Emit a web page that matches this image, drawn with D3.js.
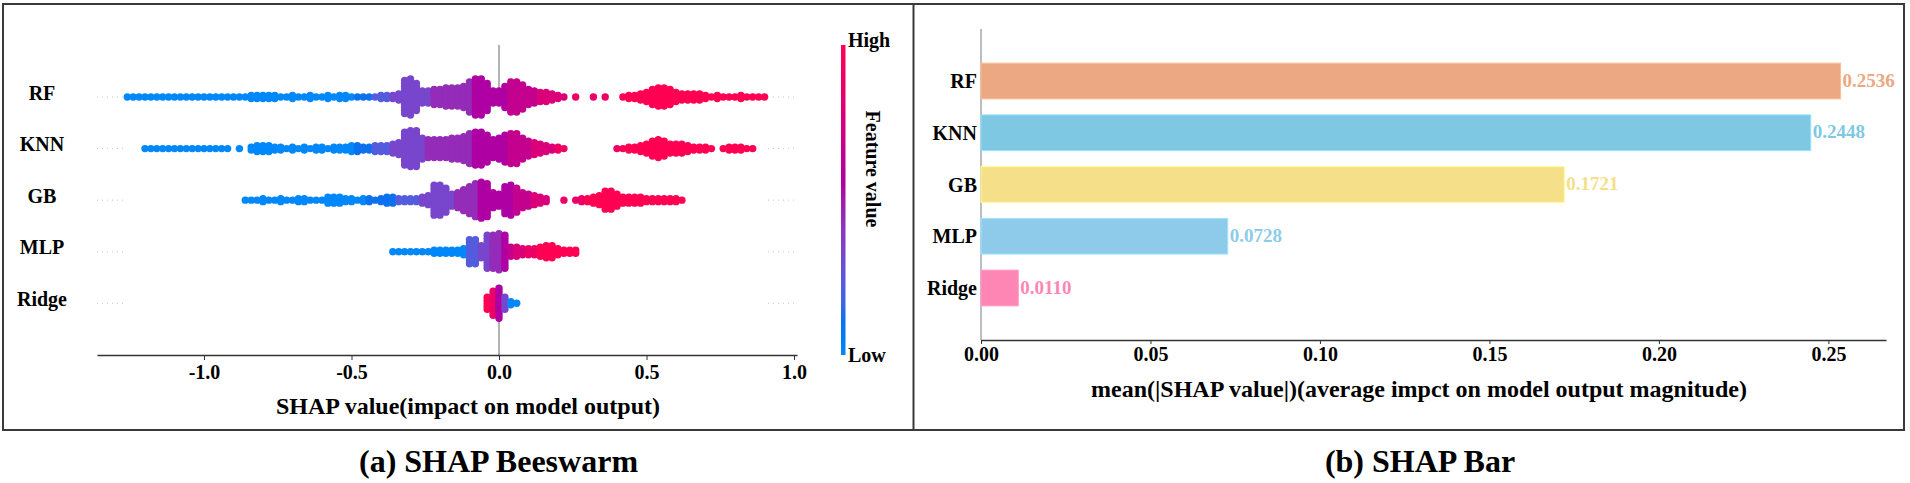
<!DOCTYPE html>
<html>
<head>
<meta charset="utf-8">
<script src="https://cdn.jsdelivr.net/npm/d3@7/dist/d3.min.js"></script>
<style>
    body { margin: 0; background: #fff; }
    svg text { font-family: 'Liberation Serif', 'Times New Roman', serif; font-weight: bold; }
</style>
</head>
<body>
<svg id="chart" width="1910" height="483"></svg>
<script>
// models, top to bottom
var models = ['RF', 'KNN', 'GB', 'MLP', 'Ridge'];

// beeswarm: number of points per 0.02 SHAP bin
var binStep = 0.02;
var binStart = [-1.26, -1.20, -0.86, -0.36, -0.04];

var rfCounts = [
    1,1,1,1,1,1,1,1,1,1, 1,1,1,1,1,1,1,1,1,1,
    1,2,2,2,2,2,1,1,2,1, 1,2,1,1,2,1,2,2,
    1,1,1,1,1,2,2,2,
    3,12,13,10,5,5,6,6,7,7,
    7,8,11,13,13,10,5,5,8,11,
    11,9,6,5,4,4,3,2,1,0,
    1,0,0,1,0,1,0,0,1,2,
    2,3,4,6,7,7,6,4,3,3,
    3,3,2,
    1,2,1,1,1,2,1,1,1,1
];
var knnCounts = [
    1,1,1,1,1,1,1,1,1,1,1,1,1,1,1,
    0,1,0,
    2,3,3,3,2,2,
    1,2,1,2,1,2,2,1,2,2,2,
    3,3,2,2,3,3,3,4,5,
    12,13,13,8,
    7,7,7,7,8,8,
    9,11,12,12,10,
    7,8,
    10,11,11,8,
    6,5,4,3,2,2,1,
    0,0,0,0,0,0,0,0,
    1,1,2,2,3,4,
    6,7,6,4,4,4,3,2,2,2,1,
    0,
    1,2,2,2,1,1
];
var gbCounts = [
    1,1,1,2,1,1,2,1,1,2,2,1,1,1,
    3,3,3,2,
    2,1,2,2,1,2,
    3,3,2,2,2,2,3,4,
    11,11,9,
    5,6,8,10,12,13,12,6,5,
    10,11,9,6,5,4,3,2,
    0,0,1,0,
    1,2,2,3,4,7,7,5,3,3,3,3,2,2,2,2,2,2,1
];
var mlpCounts = [
    1,1,1,1,1,1,1,
    2,2,2,2,2,
    3,9,9,5,12,12,13,12,
    4,4,3,3,3,4,5,5,3,2,2,2
];
var ridgeCounts = [5, 9, 11, 5, 2, 1];

// feature value of each bin, 0 (low) .. 9 (high)
var rfFeature = [
    0,0,0,0,0,0,0,0,0,0, 0,0,0,0,0,0,0,0,0,0,
    0,0,0,0,0,0,0,0,0,0, 0,0,0,0,0,0,0,0,0,
    1,1,1,2,2,2,3,
    3,3,3,3,3,3,4,4,4,4,
    4,4,4,5,5,5,5,5,5,6,
    6,6,6,6,7,7,7,7,7,8,
    8,8,8,8,8,8,8,9,9,9,
    9,9,9,9,9,9,9,9,9,9,
    9,9,9,
    9,9,9,9,9,9,9,9,9,9
];
var knnFeature = [
    0,0,0,0,0,0,0,0,0,0,0,0,0,0,0,
    0,0,0,
    0,0,0,0,0,0,
    0,0,0,0,0,0,0,0,0,0,0,
    0,1,1,1,2,2,2,3,3,
    3,3,3,3,
    4,4,4,4,4,4,
    4,4,5,5,5,
    5,5,
    5,6,6,6,
    6,7,7,7,7,8,8,
    8,8,8,8,8,8,8,8,
    8,9,9,9,9,9,
    9,9,9,9,9,9,9,9,9,9,9,
    9,
    9,9,9,9,9,9
];
var gbFeature = [
    0,0,0,0,0,0,0,0,0,0,0,0,0,0,
    0,0,0,0,
    0,0,0,1,1,1,
    1,1,2,2,2,2,3,3,
    3,3,3,
    3,4,4,4,4,5,5,5,5,
    5,5,6,6,6,7,7,7,
    8,8,8,8,
    8,8,9,9,9,9,9,9,9,9,9,9,9,9,9,9,9,9,9
];
var mlpFeature = [
    0,0,0,0,0,0,0,
    0,0,0,0,0,
    0,2,2,3,3,4,4,5,
    6,7,7,8,8,9,9,9,9,9,9,9
];
var ridgeFeature = [9, 8, 5, 3, 0, 0];

var shapTicks      = [-1, -0.5, 0, 0.5, 1];
var shapTickLabels = ['-1.0', '-0.5', '0.0', '0.5', '1.0'];

// bar chart
var meanAbsShap = [0.2536, 0.2448, 0.1721, 0.0728, 0.0110];
var barTicks    = [0, 0.05, 0.10, 0.15, 0.20, 0.25];
var barColors   = ['#eba882', '#7ec8e3', '#f5df88', '#8ecbea', '#fd86b4'];

var layout = {
    swarm: { left: 97, right: 797, top: 97, bottom: 303.3, axisY: 355, lineTop: 45, dot: 3.7, stack: 3 },
    cbar:  { x: 841, y: 45, width: 4.5, height: 310 },
    bar:   { left: 981, right: 1886, top: 29, bottom: 340, labelX: 977 },
    frame: { x: 3, y: 4, width: 1901, height: 426, split: 913.5 }
};

// blue -> purple -> red in LCh, darker through the middle
function redBlue(t) {
    var l = 54 - 14 * (1 - Math.pow(2 * t - 1, 2));
    return d3.hcl(266.9 + t * 113.4, 70 + 20 * t, l) + '';
}

var svg = d3.select('#chart');
var color = d3.scaleSequential(redBlue).domain([0, 9]);

// frame
svg.append('rect')
    .attr('x', layout.frame.x).attr('y', layout.frame.y)
    .attr('width', layout.frame.width).attr('height', layout.frame.height)
    .attr('fill', 'none').attr('stroke', '#3a3a3a').attr('stroke-width', 2)
;
svg.append('line')
    .attr('x1', layout.frame.split).attr('x2', layout.frame.split)
    .attr('y1', layout.frame.y).attr('y2', layout.frame.y + layout.frame.height)
    .attr('stroke', '#3a3a3a').attr('stroke-width', 2)
;

// ---------- (a) beeswarm ----------
var x = d3.scaleLinear()
    .domain([(layout.swarm.left - 499) / 295, (layout.swarm.right - 499) / 295])
    .range([layout.swarm.left, layout.swarm.right]);
var y = d3.scalePoint().domain(models).range([layout.swarm.top, layout.swarm.bottom]);

var rows = [
    { model: 'RF',    counts: rfCounts,    feature: rfFeature },
    { model: 'KNN',   counts: knnCounts,   feature: knnFeature },
    { model: 'GB',    counts: gbCounts,    feature: gbFeature },
    { model: 'MLP',   counts: mlpCounts,   feature: mlpFeature },
    { model: 'Ridge', counts: ridgeCounts, feature: ridgeFeature }
];

var swarm = [];
rows.forEach(function (row, r) {
    row.counts.forEach(function (n, i) {
        for (var j = 0; j < n; j++) {
            swarm.push({ model: row.model, shap: binStart[r] + i * binStep, slot: j - (n - 1) / 2, feature: row.feature[i] });
        }
    });
});

var beeswarm = svg.append('g').attr('class', 'beeswarm');

// zero line, only showing above the first row and below the last
beeswarm.selectAll('.zero')
    .data([[layout.swarm.lineTop, y(models[0])], [y(models[models.length - 1]), layout.swarm.axisY]])
    .enter().append('line')
    .attr('class', 'zero')
    .attr('x1', x(0)).attr('x2', x(0))
    .attr('y1', d => d[0]).attr('y2', d => d[1])
    .attr('stroke', '#999').attr('stroke-width', 1.5)
;

// dotted guides at both ends of each row
beeswarm.selectAll('.guide')
    .data(d3.cross(models, [[x.range()[0], x.range()[0] + 28], [x.range()[1] - 29, x.range()[1]]]))
    .enter().append('line')
    .attr('class', 'guide')
    .attr('x1', d => d[1][0]).attr('x2', d => d[1][1])
    .attr('y1', d => y(d[0])).attr('y2', d => y(d[0]))
    .attr('stroke', '#c8c8c8').attr('stroke-width', 1).attr('stroke-dasharray', '1 4')
;

beeswarm.selectAll('.dot')
    .data(swarm)
    .enter().append('circle')
    .attr('class', 'dot')
    .attr('cx', d => x(d.shap))
    .attr('cy', d => y(d.model) + d.slot * layout.swarm.stack)
    .attr('r', layout.swarm.dot)
    .attr('fill', d => color(d.feature))
;

beeswarm.selectAll('.row-label')
    .data(models)
    .enter().append('text')
    .attr('class', 'row-label')
    .attr('x', 42)
    .attr('y', d => y(d) + 2.6)
    .attr('text-anchor', 'middle')
    .attr('font-size', 20)
    .text(d => d)
;

var xAxis = beeswarm.append('g')
    .attr('transform', `translate(0, ${ layout.swarm.axisY })`)
    .call(d3.axisBottom(x)
        .tickValues(shapTicks)
        .tickFormat((d, i) => shapTickLabels[i])
        .tickSize(5).tickSizeOuter(0).tickPadding(5))
;
xAxis.select('.domain').attr('stroke', '#333').attr('stroke-width', 1.5);
xAxis.selectAll('.tick line').attr('stroke', '#333');
xAxis.selectAll('.tick text')
    .attr('font-size', 20).attr('fill', '#000')
    .style('font-family', "'Liberation Serif', 'Times New Roman', serif").style('font-weight', 'bold')
;

beeswarm.append('text')
    .attr('x', 468).attr('y', 414)
    .attr('text-anchor', 'middle').attr('font-size', 24)
    .text('SHAP value(impact on model output)')
;

// colour bar
var grad = svg.append('defs').append('linearGradient')
    .attr('id', 'cbar').attr('x1', 0).attr('x2', 0).attr('y1', 1).attr('y2', 0);
grad.selectAll('stop')
    .data(d3.range(0, 9.01, 0.5))
    .enter().append('stop')
    .attr('offset', d => d / 9)
    .attr('stop-color', d => color(d))
;
svg.append('rect')
    .attr('x', layout.cbar.x).attr('y', layout.cbar.y)
    .attr('width', layout.cbar.width).attr('height', layout.cbar.height)
    .attr('fill', 'url(#cbar)')
;
svg.append('text').attr('x', 848).attr('y', 47).attr('font-size', 20).text('High');
svg.append('text').attr('x', 848).attr('y', 362).attr('font-size', 20).text('Low');
svg.append('text')
    .attr('transform', 'translate(866, 169) rotate(90)')
    .attr('text-anchor', 'middle').attr('font-size', 20)
    .text('Feature value')
;

svg.append('text')
    .attr('x', 498.5).attr('y', 472)
    .attr('text-anchor', 'middle').attr('font-size', 32)
    .text('(a) SHAP Beeswarm')
;

// ---------- (b) bar ----------
var xb = d3.scaleLinear().domain([0, 0.267]).range([layout.bar.left, layout.bar.right]);
var yb = d3.scaleBand().domain(models).range([layout.bar.top, layout.bar.bottom])
    .paddingInner(0.31).paddingOuter(0.66);

var bars = svg.append('g').attr('class', 'bars');

bars.append('line')
    .attr('x1', layout.bar.left).attr('x2', layout.bar.left)
    .attr('y1', layout.bar.top).attr('y2', layout.bar.bottom)
    .attr('stroke', '#999').attr('stroke-width', 1.3)
;

bars.selectAll('.bar')
    .data(models)
    .enter().append('rect')
    .attr('class', 'bar')
    .attr('x', xb(0))
    .attr('y', d => yb(d))
    .attr('width', (d, i) => xb(meanAbsShap[i]) - xb(0))
    .attr('height', yb.bandwidth())
    .attr('fill', (d, i) => barColors[i])
    .attr('stroke', (d, i) => d3.color(barColors[i]).brighter(0.35))
    .attr('stroke-width', 1)
;

bars.selectAll('.value')
    .data(models)
    .enter().append('text')
    .attr('class', 'value')
    .attr('x', (d, i) => xb(meanAbsShap[i]) + 2)
    .attr('y', d => yb(d) + yb.bandwidth() / 2 - 1)
    .attr('dy', '0.35em')
    .attr('font-size', 19)
    .attr('fill', (d, i) => barColors[i])
    .text((d, i) => d3.format('.4f')(meanAbsShap[i]))
;

bars.selectAll('.bar-label')
    .data(models)
    .enter().append('text')
    .attr('class', 'bar-label')
    .attr('x', layout.bar.labelX)
    .attr('y', d => yb(d) + yb.bandwidth() / 2)
    .attr('dy', '0.35em')
    .attr('text-anchor', 'end')
    .attr('font-size', 20)
    .text(d => d)
;

var xbAxis = bars.append('g')
    .attr('transform', `translate(0, ${ layout.bar.bottom })`)
    .call(d3.axisBottom(xb)
        .tickValues(barTicks)
        .tickFormat(d3.format('.2f'))
        .tickSize(4).tickSizeOuter(0).tickPadding(3))
;
xbAxis.select('.domain').attr('stroke', '#333').attr('stroke-width', 1.5);
xbAxis.selectAll('.tick line').attr('stroke', '#333');
xbAxis.selectAll('.tick text')
    .attr('font-size', 20).attr('fill', '#000')
    .style('font-family', "'Liberation Serif', 'Times New Roman', serif").style('font-weight', 'bold')
;

bars.append('text')
    .attr('x', 1419).attr('y', 397)
    .attr('text-anchor', 'middle').attr('font-size', 24)
    .text('mean(|SHAP value|)(average impct on model output magnitude)')
;

svg.append('text')
    .attr('x', 1420).attr('y', 472)
    .attr('text-anchor', 'middle').attr('font-size', 32)
    .text('(b) SHAP Bar')
;
</script>
</body>
</html>
